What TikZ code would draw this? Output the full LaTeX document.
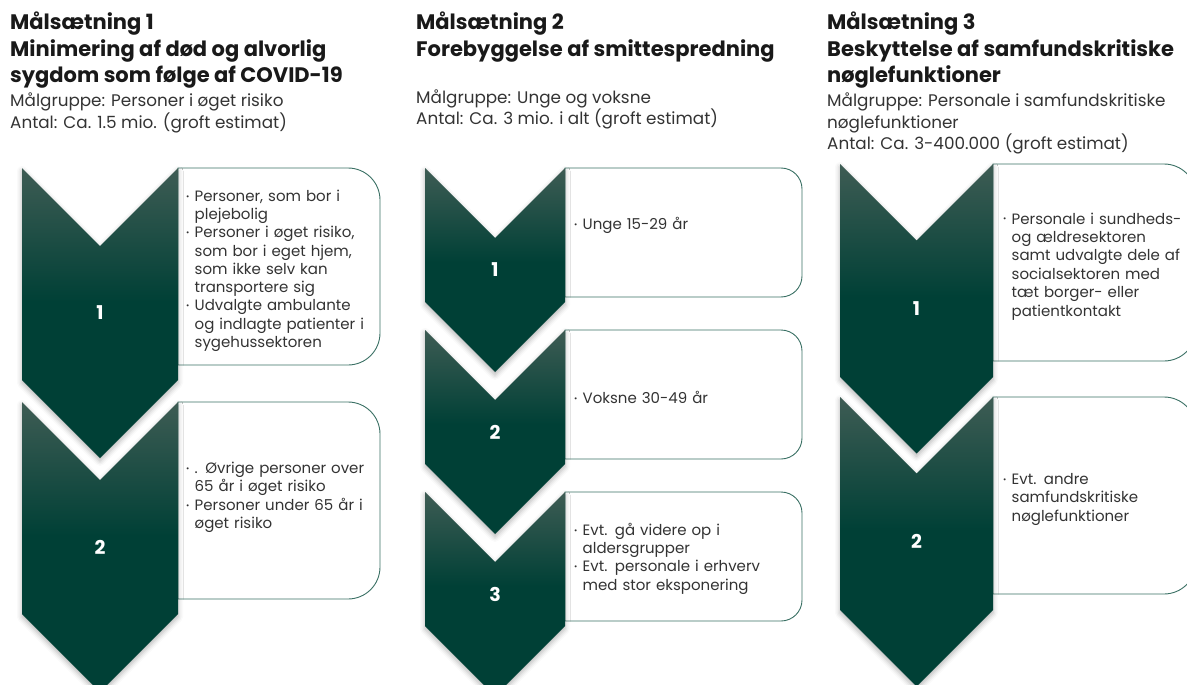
\documentclass[tikz,border=0pt]{standalone}
\usepackage{fontspec}
\setmainfont{Poppins}
\usetikzlibrary{positioning, shadows.blur}
\definecolor{chevdark}{HTML}{004036}
\definecolor{chevlight}{HTML}{3E5C54}
\definecolor{boxline}{HTML}{3A7064}
\definecolor{bodygray}{HTML}{333333}
\pgfdeclareverticalshading{chevshade}{100bp}{color(0bp)=(chevdark); color(52bp)=(chevdark); color(75bp)=(chevlight); color(100bp)=(chevlight)}
\tikzstyle{chevfill} = [shading=chevshade, blur shadow={shadow xshift=0pt, shadow yshift=-3pt, shadow blur radius=5pt, shadow opacity=30}]
\tikzstyle{numtext} = [text=white, font=\fontsize{19}{21}\selectfont\bfseries]
\tikzstyle{headtext} = [anchor=north west, inner sep=0pt, align=left, text=black!90, font=\fontsize{21}{26.5}\selectfont\bfseries]
\tikzstyle{subtext} = [inner sep=0pt, align=left, text=bodygray, font=\fontsize{16.8}{21.5}\selectfont]
\tikzstyle{itemtext} = [anchor=west, inner sep=0pt, text width=215pt, text=bodygray, font=\fontsize{15}{18.4}\selectfont, execute at begin node={\setlength{\parskip}{1.5pt}}]
\tikzstyle{goalframe} = [draw=boxline, line width=0.9pt, fill=white]
% chevron: left, width, top, side height, number, name
\newcommand{\chev}[6]{%
  \path[chevfill] (#1,-#3) -- ({#1+#2/2},{-(#3)-#2/2}) -- ({#1+#2},-#3) -- ({#1+#2},{-(#3)-(#4)})
    -- ({#1+#2/2},{-(#3)-(#4)-#2/2}) -- (#1,{-(#3)-(#4)}) -- cycle;
  \node[numtext] (#6) at ({#1+#2/2},{-(#3)-(#4)/2-#2/4}) {#5};}
% frame: left, right, top, height, radius
\newcommand{\goalbox}[5]{%
  \draw[goalframe] (#1,-#3) -- ({#2-#5},-#3) arc[start angle=90, end angle=0, radius=#5]
    -- (#2,{-(#3)-(#4)+#5}) arc[start angle=0, end angle=-90, radius=#5] -- (#1,{-(#3)-(#4)}) -- cycle;}
\newcommand{\bitem}[1]{\par\noindent\makebox[8.5pt][l]{\raisebox{.25ex}{\fontsize{8}{8}\selectfont\textbullet}}\parbox[t]{200pt}{#1}\par}

\begin{document}
\begin{tikzpicture}[x=1pt, y=1pt]
    \useasboundingbox (0,0) rectangle (1187,-685);

    % headings
    \node[headtext] (head1) at (10,-12) {Målsætning 1\\Minimering af død og alvorlig\\sygdom som følge af COVID-19};
    \node[subtext, below=4pt of head1.south west, anchor=north west] (group1) {Målgruppe: Personer i øget risiko\\Antal: Ca. 1.5 mio. (groft estimat)};
    \node[headtext] (head2) at (416,-12) {Målsætning 2\\Forebyggelse af smittespredning};
    \node[subtext, below=27pt of head2.south west, anchor=north west] (group2) {Målgruppe: Unge og voksne\\Antal: Ca. 3 mio. i alt (groft estimat)};
    \node[headtext] (head3) at (827,-12) {Målsætning 3\\Beskyttelse af samfundskritiske\\nøglefunktioner};
    \node[subtext, below=4pt of head3.south west, anchor=north west] (group3) {Målgruppe: Personale i samfundskritiske\\nøglefunktioner\\Antal: Ca. 3-400.000 (groft estimat)};

    % frames
    \foreach \t in {168, 402} {\goalbox{178}{380}{\t}{197}{32}}
    \foreach \t in {168, 330, 492} {\goalbox{565}{802}{\t}{129}{21}}
    \foreach \t in {164, 397} {\goalbox{993}{1196}{\t}{197}{32}}

    % chevrons
    \foreach \t/\n in {168/1, 402/2} {\chev{22}{156}{\t}{212}{\n}{c1n\n}}
    \foreach \t/\n in {168/1, 330/2, 492/3} {\chev{425}{140}{\t}{134}{\n}{c2n\n}}
    \foreach \t/\n in {164/1, 397/2} {\chev{840}{153}{\t}{213}{\n}{c3n\n}}

    % lists
    \node[itemtext] (list11) at (186,-266.5) {\bitem{Personer, som bor i\\plejebolig}\bitem{Personer i øget risiko,\\som bor i eget hjem,\\som ikke selv kan\\transportere sig}\bitem{Udvalgte ambulante\\og indlagte patienter i\\sygehussektoren}};
    \node[itemtext] (list12) at (186,-493) {\bitem{. Øvrige personer over\\65 år i øget risiko}\bitem{Personer under 65 år i\\øget risiko}};
    \node[itemtext] (list21) at (574,-222) {\bitem{Unge 15-29 år}};
    \node[itemtext] (list22) at (574,-394) {\bitem{Voksne 30-49 år}};
    \node[itemtext] (list23) at (574,-555) {\bitem{Evt. gå videre op i\\aldersgrupper}\bitem{Evt. personale i erhverv\\med stor eksponering}};
    \node[itemtext] (list31) at (1003,-262) {\bitem{Personale i sundheds-\\og ældresektoren\\samt udvalgte dele af\\socialsektoren med\\tæt borger- eller\\patientkontakt}};
    \node[itemtext] (list32) at (1003,-495) {\bitem{Evt. andre\\samfundskritiske\\nøglefunktioner}};
\end{tikzpicture}
\end{document}
